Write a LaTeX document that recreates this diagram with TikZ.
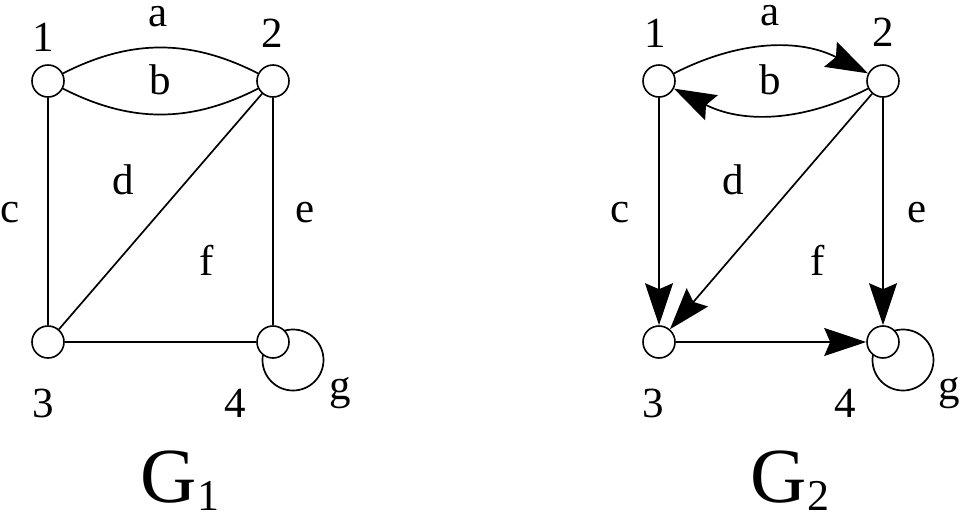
\documentclass[tikz,border=0pt]{standalone}
\usepackage{fontspec}
\setmainfont{Liberation Serif}
\usepackage{tikz}
\usetikzlibrary{positioning, arrows.meta, backgrounds}

\begin{document}
\begin{tikzpicture}[
x=1pt, y=-1pt,
vertex/.style={draw, circle, fill=white, line width=1.6pt, minimum size=32pt, inner sep=0pt},
lbl/.style={font=\fontsize{43}{46}\selectfont, inner sep=0pt},
title/.style={font=\fontsize{78}{80}\selectfont, inner sep=0pt},
edge/.style={line width=1.7pt},
arc/.style={-{Stealth[length=42pt, width=28pt, inset=6pt]}, line width=1.7pt}
]
\useasboundingbox (0,0) rectangle (961,520);

% ====== Graph G1 (undirected) ======
\node[vertex] (v1) at (48,81) {};
\node[vertex] (v2) at (273,81) {};
\node[vertex] (v3) at (48,342) {};
\node[vertex] (v4) at (273,342) {};

\draw[edge] (v1) to[bend left=27] (v2);
\draw[edge] (v1) to[bend right=27] (v2);
\draw[edge] (v1) -- (v3);
\draw[edge] (v2) -- (v3);
\draw[edge] (v2) -- (v4);
\draw[edge] (v3) -- (v4);
\begin{pgfonlayer}{background}
\draw[edge] (v4.center) ++(20,18) circle (30.5);
\end{pgfonlayer}

\node[lbl] at (43,37) {1};
\node[lbl] at (272,33) {2};
\node[lbl] at (43,403) {3};
\node[lbl] at (235,403) {4};
\node[lbl] at (158,17) {a};
\node[lbl] at (160,80) {b};
\node[lbl] at (10,213) {c};
\node[lbl] at (123,180) {d};
\node[lbl] at (305,213) {e};
\node[lbl] at (207,260) {f};
\node[lbl] at (340,393) {g};
\node[title] at (180,481) {G\raisebox{-8pt}{\fontsize{44}{46}\selectfont 1}};

% ====== Graph G2 (directed) ======
\node[vertex] (w1) at (659,81) {};
\node[vertex] (w2) at (883,81) {};
\node[vertex] (w3) at (659,342) {};
\node[vertex] (w4) at (883,342) {};

\draw[arc] (w1) to[bend left=27] (w2);
\draw[arc] (w2) to[bend left=27] (w1);
\draw[arc] (w1) -- (w3);
\draw[arc] (w2) -- (w3);
\draw[arc] (w2) -- (w4);
\draw[arc] (w3) -- (w4);
\begin{pgfonlayer}{background}
\draw[edge] (w4.center) ++(20,18) circle (30.5);
\end{pgfonlayer}

\node[lbl] at (655,33) {1};
\node[lbl] at (883,32) {2};
\node[lbl] at (653,403) {3};
\node[lbl] at (845,403) {4};
\node[lbl] at (770,16) {a};
\node[lbl] at (770,80) {b};
\node[lbl] at (620,213) {c};
\node[lbl] at (733,180) {d};
\node[lbl] at (917,213) {e};
\node[lbl] at (818,260) {f};
\node[lbl] at (949,393) {g};
\node[title] at (790,481) {G\raisebox{-8pt}{\fontsize{44}{46}\selectfont 2}};

\end{tikzpicture}
\end{document}
